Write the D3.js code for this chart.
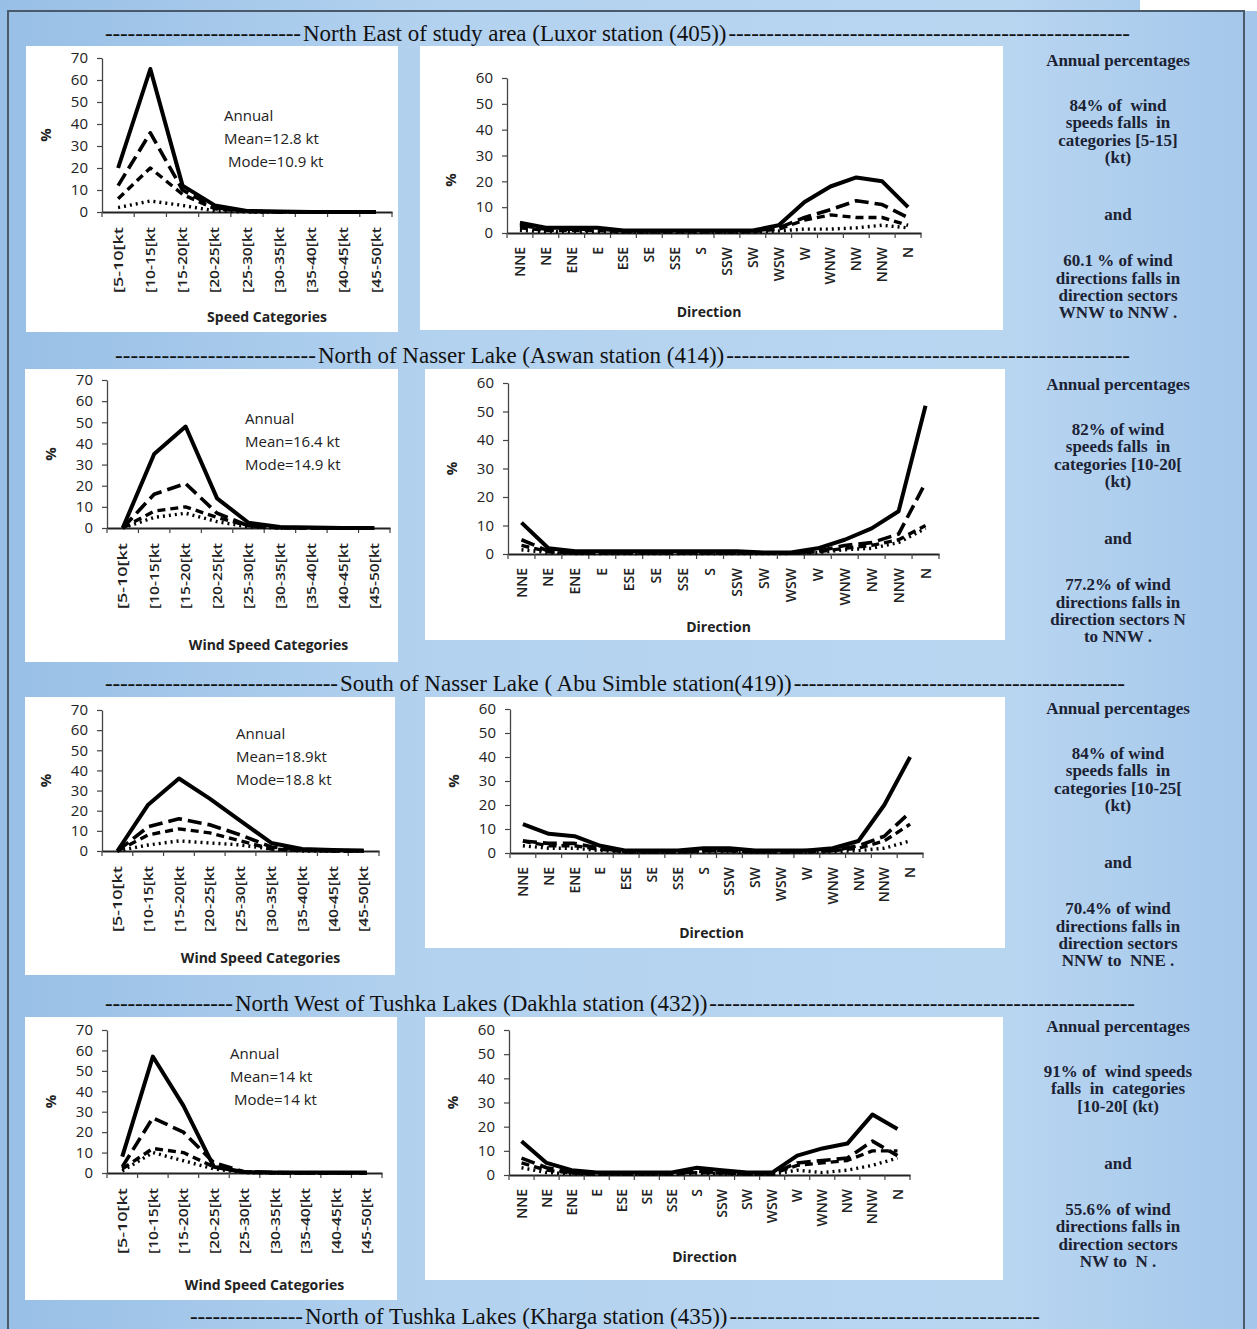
<!DOCTYPE html>
<html>
<head>
<meta charset="utf-8">
<script src="https://cdn.jsdelivr.net/npm/d3@7"></script>
<style>
  body { margin: 0; background: #fff; }
  svg text { font-family: "Open Sans", "Liberation Sans", sans-serif; }
</style>
</head>
<body>
<div id="fig"></div>
<script>
// ===== Data =====
const speedCats = ["[5-10[kt", "[10-15[kt", "[15-20[kt", "[20-25[kt", "[25-30[kt",
                   "[30-35[kt", "[35-40[kt", "[40-45[kt", "[45-50[kt"];
const dirCats = ["NNE", "NE", "ENE", "E", "ESE", "SE", "SSE", "S", "SSW", "SW",
                 "WSW", "W", "WNW", "NW", "NNW", "N"];
const speedTicks = [0, 10, 20, 30, 40, 50, 60, 70];
const dirTicks = [0, 10, 20, 30, 40, 50, 60];

const stationTitles = [
  "North East of study area (Luxor station (405))",
  "North of Nasser Lake (Aswan station (414))",
  "South of Nasser Lake  ( Abu Simble station(419))",
  "North West of Tushka Lakes (Dakhla station (432))",
  "North of Tushka Lakes (Kharga station (435))"
];

// Luxor (405): solid, long dash, short dash, dotted
const luxorSpeed = [
  [20, 65, 12, 3, 0.5, 0.2, 0, 0, 0],
  [12, 36, 10, 2, 0.3, 0, 0, 0, 0],
  [6, 20, 8, 1.5, 0.2, 0, 0, 0, 0],
  [2, 5, 3, 0.5, 0, 0, 0, 0, 0]
];
const luxorDir = [
  [4, 2, 2, 2, 1, 1, 1, 1, 1, 1, 3, 12, 18, 21.5, 20, 10],
  [3, 1.5, 1.5, 1.5, 0.8, 0.8, 0.8, 0.8, 0.8, 0.8, 2, 6, 9, 12.5, 11, 6],
  [2, 1, 1, 1, 0.5, 0.5, 0.5, 0.5, 0.5, 0.5, 1.5, 5, 7, 6, 6, 3],
  [1, 0.5, 0.5, 0.5, 0.3, 0.3, 0.3, 0.3, 0.3, 0.3, 0.8, 1.5, 1.5, 2, 3, 2]
];
const luxorStats = ["Annual", "Mean=12.8 kt", " Mode=10.9 kt"];
const luxorNotes = [["Annual percentages"], ["84% of  wind", "speeds falls  in", "categories [5-15]", "(kt)"],
                    ["and"], ["60.1 % of wind", "directions falls in", "direction sectors", "WNW to NNW ."]];

// Aswan (414)
const aswanSpeed = [
  [0, 35, 48, 14, 2.5, 0.5, 0.2, 0, 0],
  [0, 16, 21, 7, 1, 0.2, 0, 0, 0],
  [0, 8, 10, 5, 1, 0, 0, 0, 0],
  [0, 5, 7, 3, 0.5, 0, 0, 0, 0]
];
const aswanDir = [
  [11, 2, 1, 1, 1, 1, 1, 1, 1, 0.5, 0.5, 2, 5, 9, 15, 52],
  [5, 1, 0.5, 0.5, 0.5, 0.5, 0.5, 0.5, 0.5, 0.3, 0.3, 1, 3, 4, 7, 25],
  [3, 0.8, 0.3, 0.3, 0.3, 0.3, 0.3, 0.3, 0.3, 0.3, 0.3, 0.8, 2, 3, 5, 10],
  [1.5, 0.5, 0.2, 0.2, 0.2, 0.2, 0.2, 0.2, 0.2, 0.2, 0.2, 0.5, 1.5, 2, 4, 9]
];
const aswanStats = ["Annual", "Mean=16.4 kt", "Mode=14.9 kt"];
const aswanNotes = [["Annual percentages"], ["82% of wind", "speeds falls  in", "categories [10-20[", "(kt)"],
                    ["and"], ["77.2% of wind", "directions falls in", "direction sectors N", "to NNW ."]];

// Abu Simbel (419)
const abuSpeed = [
  [0, 23, 36, 26, 15, 4, 1, 0.5, 0.3],
  [0, 12, 16, 13, 8, 2, 0.5, 0, 0],
  [0, 8, 11, 9, 5, 1, 0.3, 0, 0],
  [0, 3, 5, 4, 3, 1, 0, 0, 0]
];
const abuDir = [
  [12, 8, 7, 3, 1, 1, 1, 2, 2, 1, 1, 1, 2, 5, 20, 40],
  [5, 4, 4, 2, 0.5, 0.5, 0.5, 1, 1, 0.5, 0.5, 1, 1, 3, 7, 17],
  [5, 3, 3, 1.5, 0.5, 0.5, 0.5, 1, 1, 0.5, 0.5, 0.5, 1, 2, 5, 12],
  [3, 2, 2, 1, 0.3, 0.3, 0.3, 0.5, 0.5, 0.3, 0.3, 0.3, 0.5, 1, 2, 5]
];
const abuStats = ["Annual", "Mean=18.9kt", "Mode=18.8 kt"];
const abuNotes = [["Annual percentages"], ["84% of wind", "speeds falls  in", "categories [10-25[", "(kt)"],
                  ["and"], ["70.4% of wind", "directions falls in", "direction sectors", "NNW to  NNE ."]];

// Dakhla (432)
const dakhlaSpeed = [
  [8, 57, 33, 3, 0.5, 0.3, 0.2, 0.2, 0.2],
  [3, 27, 20, 5, 0.5, 0.2, 0, 0, 0],
  [2, 12, 10, 3, 0.3, 0, 0, 0, 0],
  [1, 10, 6, 2, 0.2, 0, 0, 0, 0]
];
const dakhlaDir = [
  [14, 5, 2, 1, 1, 1, 1, 3, 2, 1, 1, 8, 11, 13, 25, 19],
  [7, 3, 1, 0.5, 0.5, 0.5, 0.5, 1.5, 1, 0.5, 0.5, 5, 6, 7, 14, 8],
  [5, 2, 0.8, 0.5, 0.5, 0.5, 0.5, 1, 0.8, 0.5, 0.5, 4, 5, 6, 10, 10],
  [3, 1, 0.5, 0.3, 0.3, 0.3, 0.3, 0.8, 0.5, 0.3, 0.3, 2, 1, 2, 4, 7]
];
const dakhlaStats = ["Annual", "Mean=14 kt", " Mode=14 kt"];
const dakhlaNotes = [["Annual percentages"], ["91% of  wind speeds", "falls  in  categories", "[10-20[ (kt)"],
                     ["and"], ["55.6% of wind", "directions falls in", "direction sectors", "NW to  N ."]];

// ===== Layout =====
const W = 1257, H = 1329;
const dashes = [null, "14,6", "8,5", "2,4"];
const widths = [4, 3.6, 3.4, 3.4];

const titleRows = [
  { y: 41, left: 105, start: 303, right: 1130 },
  { y: 363, left: 115, start: 318, right: 1130 },
  { y: 691, left: 105, start: 340, right: 1125 },
  { y: 1011, left: 105, start: 235, right: 1135 },
  { y: 1324, left: 190, start: 305, right: 1040 }
];

const rows = [
  { speed: luxorSpeed, dir: luxorDir, stats: luxorStats, notes: luxorNotes, speedTitle: "Speed Categories",
    sBox: [26, 46, 372, 286], s: { x0: 102, x1: 392, yT: 58, y0: 212, tt: 105, stx: 224, sty: 116 },
    dBox: [420, 46, 583, 284], d: { x0: 507, x1: 921, yT: 78, y0: 233, tt: 79, py: 180 }, notesY: 66 },
  { speed: aswanSpeed, dir: aswanDir, stats: aswanStats, notes: aswanNotes, speedTitle: "Wind Speed Categories",
    sBox: [25, 369, 373, 293], s: { x0: 107, x1: 390, yT: 380, y0: 528, tt: 117, stx: 245, sty: 419 },
    dBox: [425, 369, 580, 271], d: { x0: 508, x1: 939, yT: 383, y0: 554, tt: 73 }, notesY: 390 },
  { speed: abuSpeed, dir: abuDir, stats: abuStats, notes: abuNotes, speedTitle: "Wind Speed Categories",
    sBox: [25, 697, 370, 278], s: { x0: 102, x1: 379, yT: 710, y0: 851, tt: 107, stx: 236, sty: 734 },
    dBox: [425, 697, 580, 251], d: { x0: 510, x1: 923, yT: 709, y0: 853, tt: 80 }, notesY: 714 },
  { speed: dakhlaSpeed, dir: dakhlaDir, stats: dakhlaStats, notes: dakhlaNotes, speedTitle: "Wind Speed Categories",
    sBox: [25, 1017, 372, 283], s: { x0: 107, x1: 382, yT: 1030, y0: 1173, tt: 112, stx: 230, sty: 1054 },
    dBox: [425, 1017, 578, 263], d: { x0: 509, x1: 910, yT: 1030, y0: 1175, tt: 82 }, notesY: 1032 }
];

const svg = d3.select("#fig").append("svg")
  .attr("width", W).attr("height", H);

// background
const defs = svg.append("defs");
const grad = defs.append("linearGradient").attr("id", "bg").attr("x1", 0).attr("x2", 1);
grad.append("stop").attr("offset", 0).attr("stop-color", "#98bfe6");
grad.append("stop").attr("offset", 0.35).attr("stop-color", "#b3d2ef");
grad.append("stop").attr("offset", 0.8).attr("stop-color", "#b9d6f1");
grad.append("stop").attr("offset", 1).attr("stop-color", "#a3c6ea");
svg.append("rect").attr("width", W).attr("height", H).attr("fill", "url(#bg)");
svg.append("rect").attr("x", 1140).attr("y", 0).attr("width", 117).attr("height", 11).attr("fill", "#fff");
svg.append("rect").attr("x", 8).attr("y", 11).attr("width", 1236).attr("height", H + 10)
  .attr("fill", "none").attr("stroke", "#4a5a6a").attr("stroke-width", 2);

// ===== Titles with dashed padding =====
titleRows.forEach((t, i) => {
  const main = svg.append("text")
    .attr("x", t.start).attr("y", t.y)
    .style("font-family", "'Liberation Serif', 'DejaVu Serif', serif")
    .style("font-size", "23px").attr("fill", "#111")
    .text(stationTitles[i]);
  const end = t.start + main.node().getComputedTextLength();
  const dashText = (a, b) => {
    const n = Math.max(1, Math.round((b - a) / 7.6));
    svg.append("text")
      .attr("x", a).attr("y", t.y)
      .attr("textLength", b - a).attr("lengthAdjust", "spacing")
      .style("font-family", "'Liberation Serif', serif")
      .style("font-size", "23px").attr("fill", "#111")
      .text("-".repeat(n));
  };
  dashText(t.left, t.start - 2);
  dashText(end + 2, t.right);
});

// ===== Chart drawing =====
function drawChart(box, c, cats, ticks, yMax, series, opts) {
  svg.append("rect")
    .attr("x", box[0]).attr("y", box[1]).attr("width", box[2]).attr("height", box[3])
    .attr("fill", "#fff");

  const g = svg.append("g");
  const x = d3.scaleBand().domain(cats).range([c.x0, c.x1]).padding(0);
  const y = d3.scaleLinear().domain([0, yMax]).range([c.y0, c.yT]);

  // y axis
  const ya = g.append("g")
    .attr("transform", `translate(${c.x0},0)`)
    .call(d3.axisLeft(y).tickValues(ticks).tickSize(5).tickSizeOuter(0).tickPadding(9));
  ya.select(".domain").attr("stroke", "#444").attr("stroke-width", 1.3);
  ya.selectAll(".tick line").attr("stroke", "#444").attr("stroke-width", 1.2);
  ya.selectAll("text").style("font-size", "15px").attr("fill", "#222");

  // x axis
  const xa = g.append("g")
    .attr("transform", `translate(0,${c.y0})`)
    .call(d3.axisBottom(x).tickSize(0).tickSizeOuter(0).tickPadding(0));
  xa.select(".domain").attr("stroke", "#222").attr("stroke-width", 1.8);
  xa.selectAll(".tick text")
    .attr("transform", "rotate(-90)")
    .attr("x", -opts.labelOffset)
    .attr("y", 0)
    .attr("dy", "0.36em")
    .style("text-anchor", "end")
    .style("font-size", opts.labelSize)
    .style("font-weight", "600")
    .attr("fill", "#222")
    .each(function () { if (opts.labelLen) d3.select(this).attr("textLength", opts.labelLen).attr("lengthAdjust", "spacingAndGlyphs"); });

  // boundary ticks between categories
  const bounds = cats.map(d => x(d)).concat([c.x1]);
  g.append("g").selectAll("line").data(bounds).join("line")
    .attr("x1", d => d).attr("x2", d => d)
    .attr("y1", c.y0).attr("y2", c.y0 + 5)
    .attr("stroke", "#444").attr("stroke-width", 1.2);

  // series lines (dotted first, solid on top)
  const line = d3.line()
    .x((v, i) => x(cats[i]) + x.bandwidth() / 2)
    .y(v => y(v));
  for (let k = series.length - 1; k >= 0; k--) {
    g.append("path")
      .attr("d", line(series[k]))
      .attr("fill", "none")
      .attr("stroke", "#000")
      .attr("stroke-width", widths[k])
      .attr("stroke-linejoin", "round")
      .attr("stroke-dasharray", dashes[k]);
  }

  // "%" axis label
  g.append("text")
    .attr("transform", `translate(${c.x0 - 56},${c.py || (c.y0 + c.yT) / 2}) rotate(-90)`)
    .attr("text-anchor", "middle").attr("dy", "0.35em")
    .style("font-size", "15px").style("font-weight", "700").attr("fill", "#222")
    .text("%");

  // x axis title
  g.append("text")
    .attr("x", (c.x0 + c.x1) / 2 + (opts.titleShift || 0)).attr("y", c.y0 + c.tt)
    .attr("text-anchor", "middle").attr("dy", "0.35em")
    .style("font-size", "14px").style("font-weight", "700").attr("fill", "#222")
    .text(opts.title);
  return g;
}

rows.forEach(r => {
  const gs = drawChart(r.sBox, r.s, speedCats, speedTicks, 70, r.speed,
    { labelOffset: 15, labelSize: "13px", labelLen: 66, title: r.speedTitle, titleShift: 20 });
  r.stats.forEach((t, i) => {
    gs.append("text")
      .attr("x", r.s.stx).attr("y", r.s.sty + i * 23)
      .attr("dy", "0.35em")
      .style("font-size", "15px").attr("fill", "#222")
      .attr("xml:space", "preserve")
      .text(t);
  });

  drawChart(r.dBox, r.d, dirCats, dirTicks, 60, r.dir,
    { labelOffset: 14, labelSize: "14px", title: "Direction", titleShift: -5 });

  // side notes: heading, speed lines, "and", direction lines
  const nt = svg.append("text")
    .attr("text-anchor", "middle")
    .style("font-family", "'Liberation Serif', 'DejaVu Serif', serif")
    .style("font-size", "17px").style("font-weight", "700")
    .attr("fill", "#1b2233");
  const gaps = [0, 45, 57, 46];
  let yy = r.notesY;
  r.notes.forEach((grp, gi) => {
    if (gi > 0) yy += gaps[gi];
    grp.forEach((t, li) => {
      if (li > 0) yy += 17.4;
      nt.append("tspan").attr("x", 1118).attr("y", yy)
        .attr("xml:space", "preserve").text(t);
    });
  });
});
</script>
</body>
</html>
